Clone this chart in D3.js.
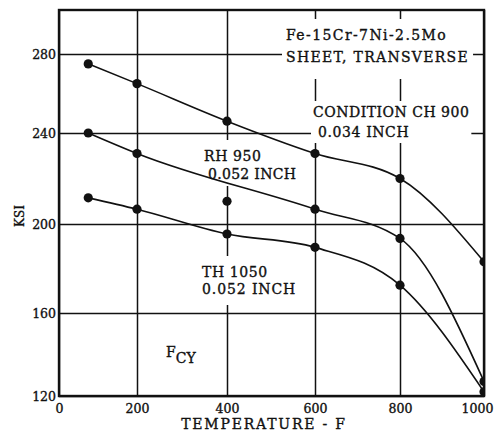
<!DOCTYPE html>
<html>
<head>
<meta charset="utf-8">
<script src="https://cdn.jsdelivr.net/npm/d3@7"></script>
<style>
  body { margin: 0; background: #fff; }
  svg text { font-family: "DejaVu Serif", serif; fill: #111; stroke: #111; stroke-width: 0.35px; }
</style>
</head>
<body>
<svg id="chart" width="496" height="442"></svg>
<script>
// values: temperature (F) vs compressive yield (ksi)
const temps = [75, 200, 400, 600, 800, 1000];
const ch900 = [275, 265, 246, 231, 220, 183];
const rh950 = [240, 231, 210, 206.5, 193.5, 127];
const th1050 = [211.5, 206.5, 195.5, 189.5, 172.5, 122];
// the RH 950 curve is faired past the 400 F point
const rh950Faired = [true, true, false, true, true, true];

const xTicks = [0, 200, 400, 600, 800, 1000];
const yTicks = [120, 160, 200, 240, 280];

const svg = d3.select("#chart");

// the scanned grid is a little uneven, so the scales follow each grid line
const x = d3.scaleLinear()
    .domain([0, 200, 400, 600, 800, 1000])
    .range([59, 137, 227, 315, 400, 484]);
const y = d3.scaleLinear()
    .domain([120, 160, 200, 240, 280, 300])
    .range([396, 313, 224, 133, 54, 10]);

const pLeft = x(0), pRight = x(1000), pTop = y(300), pBottom = y(120);

svg.append("clipPath").attr("id", "plot-clip")
  .append("rect")
    .attr("x", pLeft).attr("y", pTop)
    .attr("width", pRight - pLeft).attr("height", pBottom - pTop);

// grid + tick labels
const xAxis = svg.append("g")
    .attr("transform", `translate(0,${pBottom})`)
    .call(d3.axisBottom(x).tickValues(xTicks).tickFormat(d3.format("d"))
        .tickSize(-(pBottom - pTop)).tickPadding(8));
const yAxis = svg.append("g")
    .attr("transform", `translate(${pLeft},0)`)
    .call(d3.axisLeft(y).tickValues(yTicks).tickFormat(d3.format("d"))
        .tickSize(-(pRight - pLeft)).tickPadding(3));

[xAxis, yAxis].forEach(g => {
  g.select(".domain").remove();
  g.selectAll(".tick line").attr("stroke", "#111").attr("stroke-width", 1.5);
  g.selectAll(".tick text")
      .style("font-family", '"DejaVu Serif", serif')
      .style("font-size", "12.5px").attr("fill", "#111");
});
xAxis.selectAll(".tick text").filter(d => d === 1000).attr("dx", -7);

// annotations, each on a white patch that breaks the grid like the original
const notes = [
  { lines: ["Fe-15Cr-7Ni-2.5Mo", "SHEET, TRANSVERSE"], x: [286, 286], y: [40, 62], ls: [1.4, 1.3], pad: [4, 8, 14] },
  { lines: ["CONDITION CH 900", "0.034 INCH"], x: [313, 318], y: [117, 137], ls: [0.5, 0.6], pad: [2, 3, 3] },
  { lines: ["RH 950", "0.052 INCH"], x: [204, 208], y: [161, 179], ls: [0.6, 0.3], pad: [2, 8, 4] },
  { lines: ["TH 1050", "0.052 INCH"], x: [202, 202], y: [277, 294], ls: [0.6, 0.9], pad: [2, 8, 8] }
];

const noteLayer = svg.append("g");
notes.forEach(n => {
  const g = noteLayer.append("g");
  const bg = g.append("rect").attr("fill", "#fff");
  n.lines.forEach((t, i) => {
    g.append("text")
        .attr("x", n.x[i]).attr("y", n.y[i])
        .style("font-size", "14px")
        .style("letter-spacing", n.ls[i] + "px")
        .text(t);
  });
  const b = g.node().getBBox();
  bg.attr("x", b.x - n.pad[0]).attr("y", b.y - n.pad[1])
    .attr("width", b.width + 2 * n.pad[0]).attr("height", b.height + n.pad[1] + n.pad[2]);
});

// F sub CY
const fcy = svg.append("text").attr("x", 166).attr("y", 357)
    .style("font-size", "14px");
fcy.append("tspan").text("F");
fcy.append("tspan").attr("dy", 6).text("CY");

// axis titles
svg.append("text")
    .attr("transform", "translate(24,216) rotate(-90)")
    .attr("text-anchor", "middle")
    .style("font-size", "12px")
    .text("KSI");
svg.append("text")
    .attr("x", 264).attr("y", 429)
    .attr("text-anchor", "middle")
    .style("font-size", "14px")
    .style("letter-spacing", "1.8px")
    .text("TEMPERATURE - F");

// curves and test points
const series = [
  { values: ch900, faired: temps.map(() => true) },
  { values: rh950, faired: rh950Faired },
  { values: th1050, faired: temps.map(() => true) }
];

const line = d3.line()
    .x(d => x(d[0]))
    .y(d => y(d[1]))
    .curve(d3.curveMonotoneX);

const marks = svg.append("g").attr("clip-path", "url(#plot-clip)");
series.forEach(s => {
  const pts = temps.map((t, i) => [t, s.values[i]]);
  marks.append("path")
      .datum(pts.filter((p, i) => s.faired[i]))
      .attr("d", line)
      .attr("fill", "none")
      .attr("stroke", "#111")
      .attr("stroke-width", 1.6);
  marks.selectAll(null)
    .data(pts)
    .join("circle")
      .attr("cx", d => x(d[0]))
      .attr("cy", d => y(d[1]))
      .attr("r", 4.6)
      .attr("fill", "#111");
});

// heavy frame
svg.append("rect")
    .attr("x", pLeft).attr("y", pTop)
    .attr("width", pRight - pLeft).attr("height", pBottom - pTop)
    .attr("fill", "none")
    .attr("stroke", "#111")
    .attr("stroke-width", 2.4);
</script>
</body>
</html>
